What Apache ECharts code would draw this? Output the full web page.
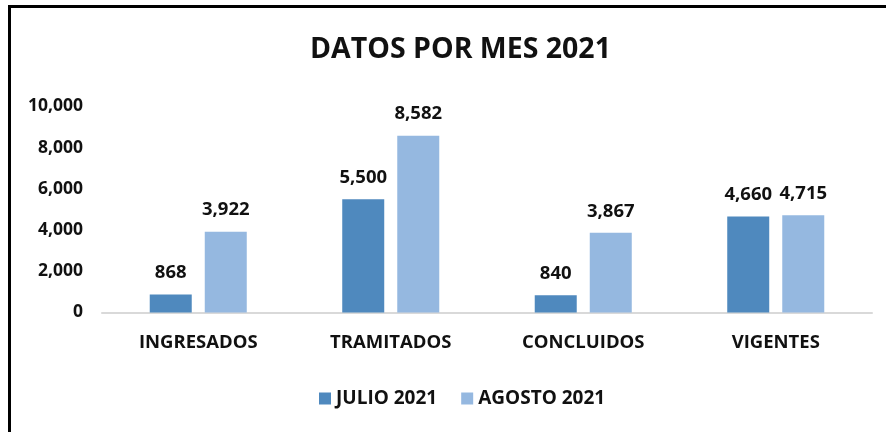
<!DOCTYPE html>
<html>
<head>
<meta charset="utf-8">
<script src="https://cdn.jsdelivr.net/npm/echarts@6/dist/echarts.min.js"></script>
<style>
html,body{margin:0;padding:0;background:#fff;}
#frame{position:absolute;left:8px;top:5px;width:900px;height:440px;border:3px solid #000;box-sizing:border-box;}
#chart{position:absolute;left:0;top:0;width:886px;height:432px;}
</style>
</head>
<body>
<div id="frame"></div>
<div id="chart"></div>
<script>
const categories = ['INGRESADOS', 'TRAMITADOS', 'CONCLUIDOS', 'VIGENTES'];
const julio2021 = [868, 5500, 840, 4660];
const agosto2021 = [3922, 8582, 3867, 4715];
const seriesNames = ['JULIO 2021', 'AGOSTO 2021'];
const titleText = 'DATOS POR MES 2021';

const FONT = '"Open Sans", "Noto Sans", sans-serif';
const chart = echarts.init(document.getElementById('chart'));
const fmt = v => v.toLocaleString('en-US');
const labelCfg = {
  show: true, position: 'top', distance: 12,
  fontFamily: FONT, fontWeight: 'bold', fontSize: 18.5, color: '#111',
  formatter: p => fmt(p.value)
};
chart.setOption({
  animation: false,
  title: {
    text: titleText, left: 305, top: 30,
    textStyle: { fontFamily: FONT, fontWeight: 'bold', fontSize: 28.5, color: '#111' }
  },
  legend: {
    bottom: 19, left: 314, itemWidth: 12, itemHeight: 12, itemGap: 24,
    icon: 'rect',
    textStyle: { fontFamily: FONT, fontWeight: 'bold', fontSize: 19, color: '#111' },
    data: seriesNames
  },
  grid: { left: 102, right: 14, top: 106.5, bottom: 119.5 },
  xAxis: {
    type: 'category', data: categories,
    axisLine: { lineStyle: { color: '#d9d9d9', width: 2 } },
    axisTick: { show: false },
    axisLabel: { fontFamily: FONT, fontWeight: 'bold', fontSize: 18.5, color: '#111', margin: 21 }
  },
  yAxis: {
    type: 'value', min: 0, max: 10000, interval: 2000,
    splitLine: { show: false },
    axisLine: { show: false }, axisTick: { show: false },
    axisLabel: { fontFamily: FONT, fontWeight: 'bold', fontSize: 17.5, color: '#111', margin: 19,
      formatter: v => fmt(v) }
  },
  series: [
    { name: seriesNames[0], type: 'bar', data: julio2021, barWidth: 42, barGap: '31%',
      itemStyle: { color: '#4f89be' }, label: labelCfg },
    { name: seriesNames[1], type: 'bar', data: agosto2021, barWidth: 42,
      itemStyle: { color: '#95b8e0' }, label: labelCfg }
  ]
});
</script>
</body>
</html>
